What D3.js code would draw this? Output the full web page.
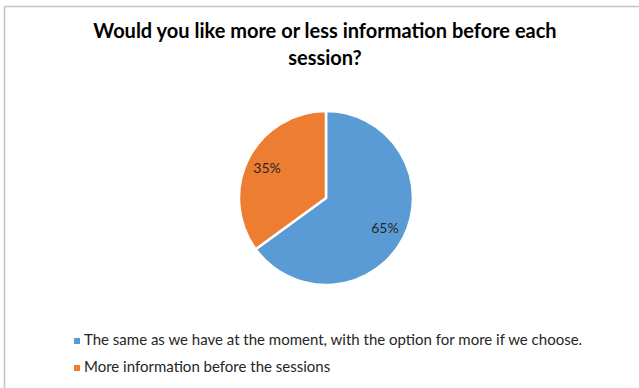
<!DOCTYPE html>
<html>
<head>
<meta charset="utf-8">
<script src="https://cdn.jsdelivr.net/npm/d3@7/dist/d3.min.js"></script>
<style>
  html, body { margin: 0; padding: 0; background: #fff; }
  svg { display: block; }
</style>
</head>
<body>
<svg id="chart" width="639" height="388"></svg>
<script>
// Survey answers and their shares
const categories = [
  "The same as we have at the moment, with the option for more if we choose.",
  "More information before the sessions"
];
const shares = [65, 35];
const colors = ["#5B9BD5", "#ED7D31"];
const titleLines = ["Would you like more or less information before each", "session?"];

const svg = d3.select("#chart");
const W = 639, H = 388;
const font = "Lato, 'Open Sans', sans-serif";

svg.append("rect").attr("width", W).attr("height", H).attr("fill", "#fff");

// Chart frame (right and bottom edges fall outside the view)
svg.append("rect")
  .attr("x", 4.5).attr("y", 6.5)
  .attr("width", W + 10).attr("height", H + 10)
  .attr("fill", "none").attr("stroke", "#c4c4c4").attr("stroke-width", 1.5);

// Title
svg.append("text")
  .attr("text-anchor", "middle")
  .attr("font-family", font).attr("font-weight", "bold")
  .attr("font-size", 20).attr("fill", "#000")
  .selectAll("tspan").data(titleLines).join("tspan")
  .attr("x", 325).attr("y", (d, i) => 38 + i * 27)
  .text(d => d);

// Pie
const cx = 326, cy = 198, r = 87;
const pie = d3.pie().sort(null).value(d => d)(shares);
const arc = d3.arc().innerRadius(0).outerRadius(r);
const labelArc = d3.arc().innerRadius(r * 0.76).outerRadius(r * 0.76);

const g = svg.append("g").attr("transform", `translate(${cx},${cy})`);
g.selectAll("path").data(pie).join("path")
  .attr("d", arc)
  .attr("fill", (d, i) => colors[i])
  .attr("stroke", "#fff").attr("stroke-width", 2.5).attr("stroke-linejoin", "round");

g.selectAll("text.lbl").data(pie).join("text")
  .attr("class", "lbl")
  .attr("transform", d => `translate(${labelArc.centroid(d)})`)
  .attr("text-anchor", "middle").attr("dy", "0.35em")
  .attr("font-family", font).attr("font-size", 14).attr("fill", "#262626")
  .text(d => d.data + "%");

// Legend
const legend = svg.append("g");
const rows = legend.selectAll("g").data(categories).join("g")
  .attr("transform", (d, i) => `translate(74,${345 + i * 27})`);
rows.append("rect")
  .attr("x", 0).attr("y", -7).attr("width", 6).attr("height", 6)
  .attr("fill", (d, i) => colors[i]);
rows.append("text")
  .attr("x", 10).attr("y", 0)
  .attr("font-family", font).attr("font-size", 15).attr("fill", "#262626")
  .text(d => d);
</script>
</body>
</html>
